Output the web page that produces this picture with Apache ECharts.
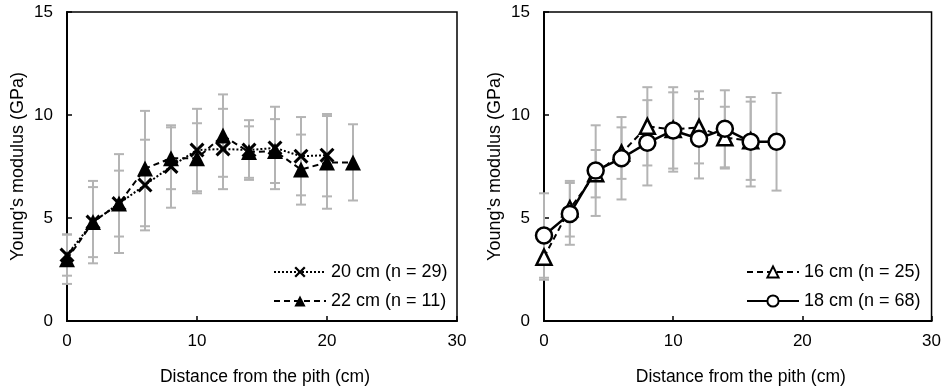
<!DOCTYPE html>
<html><head><meta charset="utf-8">
<script src="https://cdn.jsdelivr.net/npm/echarts@6/dist/echarts.min.js"></script>
<style>html,body{margin:0;padding:0;background:#fff}#c{width:944px;height:391px}</style>
</head><body><div id="c"></div>
<script>
// ---- data ----
const x20 = [0,2,4,6,8,10,12,14,16,18,20];
const y20 = [3.2,4.8,5.7,6.6,7.5,8.3,8.35,8.3,8.4,8.0,8.05];
const sd20 = [1.0,1.7,1.6,2.2,2.0,2.0,1.95,1.45,2.0,1.9,2.0];

const x22 = [0,2,4,6,8,10,12,14,16,18,20,22];
const y22 = [3.0,4.8,5.7,7.4,7.9,7.9,9.0,8.2,8.25,7.35,7.7,7.7];
const sd22 = [1.2,2.0,2.4,2.8,1.5,1.7,2.0,1.25,1.55,1.7,2.25,1.85];

const x16 = [0,2,4,6,8,10,12,14,16];
const y16 = [3.1,5.45,7.15,8.15,9.45,9.3,9.4,8.9,8.75];
const sd16 = [1.1,1.35,1.15,1.25,1.9,2.05,1.75,1.5,1.9];

const x18 = [0,2,4,6,8,10,12,14,16,18];
const y18 = [4.15,5.2,7.3,7.9,8.65,9.25,8.85,9.33,8.7,8.7];
const sd18 = [2.05,1.5,2.2,2.0,2.07,1.85,1.93,1.87,2.17,2.37];

const names = ['20 cm (n = 29)','22 cm (n = 11)','16 cm (n = 25)','18 cm (n = 68)'];
const xTicks = [0,10,20,30];
const yTicks = [0,5,10,15];

// ---- build ----
const FONT = 'Liberation Sans, Arial, sans-serif';
const pts = (xs, ys) => xs.map((x,i)=>[x, ys[i]]);
const errs = (xs, ys, sd) => xs.map((x,i)=>[x, ys[i]-sd[i], ys[i]+sd[i]]);
const XSYM = 'path://M0,2 L2,0 L7,5 L12,0 L14,2 L9,7 L14,12 L12,14 L7,9 L2,14 L0,12 L5,7 Z';

function errSeries(data, gi){
  return {
    type:'custom', xAxisIndex:gi, yAxisIndex:gi, z:1, silent:true,
    data: data,
    renderItem: function(params, api){
      const x = api.value(0), lo = api.value(1), hi = api.value(2);
      const p1 = api.coord([x, lo]), p2 = api.coord([x, hi]);
      const w = 5;
      const st = {stroke:'#b4b4b4', lineWidth:2};
      return {type:'group', children:[
        {type:'line', shape:{x1:p1[0],y1:p1[1],x2:p2[0],y2:p2[1]}, style:st},
        {type:'line', shape:{x1:p1[0]-w,y1:p1[1],x2:p1[0]+w,y2:p1[1]}, style:st},
        {type:'line', shape:{x1:p2[0]-w,y1:p2[1],x2:p2[0]+w,y2:p2[1]}, style:st}
      ]};
    }
  };
}

function xAxis(gi){
  return {
    gridIndex:gi, type:'value', min:0, max:30, interval:10,
    name:'Distance from the pith (cm)', nameLocation:'middle', nameGap:47,
    nameTextStyle:{fontFamily:FONT, fontSize:17.5, color:'#000', padding:[0,0,0,6]},
    axisLine:{show:true, onZero:false, lineStyle:{color:'#000', width:2}},
    axisTick:{show:true, inside:true, length:5, lineStyle:{color:'#000', width:1.5}},
    axisLabel:{fontFamily:FONT, fontSize:17, color:'#000', margin:12},
    splitLine:{show:false}
  };
}
function yAxis(gi){
  return {
    gridIndex:gi, type:'value', min:0, max:15, interval:5,
    name:"Young's modulus (GPa)", nameLocation:'middle', nameGap:40,
    nameTextStyle:{fontFamily:FONT, fontSize:18, color:'#000'},
    axisLine:{show:true, onZero:false, lineStyle:{color:'#000', width:2}},
    axisTick:{show:true, inside:true, length:5, lineStyle:{color:'#000', width:1.5}},
    axisLabel:{fontFamily:FONT, fontSize:17, color:'#000', margin:14},
    splitLine:{show:false}
  };
}

const chart = echarts.init(document.getElementById('c'), null, {renderer:'canvas'});
chart.setOption({
  animation:false,
  backgroundColor:'#fff',
  grid:[
    {left:67, right:487, top:12, bottom:70, show:true, borderColor:'#000', borderWidth:1.5},
    {left:544, right:11, top:12, bottom:70, show:true, borderColor:'#000', borderWidth:1.5}
  ],
  xAxis:[xAxis(0), xAxis(1)],
  yAxis:[yAxis(0), yAxis(1)],
  legend:[
    {data:[names[0], names[1]], orient:'vertical', left:268, top:258, itemWidth:52, itemHeight:14, itemGap:11,
     textStyle:{fontFamily:FONT, fontSize:18, color:'#000'}},
    {data:[names[2], names[3]], orient:'vertical', left:741, top:258, itemWidth:52, itemHeight:14, itemGap:11,
     textStyle:{fontFamily:FONT, fontSize:18, color:'#000'}}
  ],
  series:[
    errSeries(errs(x20,y20,sd20),0),
    errSeries(errs(x22,y22,sd22),0),
    errSeries(errs(x16,y16,sd16),1),
    errSeries(errs(x18,y18,sd18),1),
    {name:names[0], type:'line', xAxisIndex:0, yAxisIndex:0, z:3, data:pts(x20,y20),
     symbol:XSYM, symbolSize:15, itemStyle:{color:'#000'},
     lineStyle:{color:'#000', width:2, type:'dotted'}},
    {name:names[1], type:'line', xAxisIndex:0, yAxisIndex:0, z:4, data:pts(x22,y22),
     symbol:'triangle', symbolSize:16, itemStyle:{color:'#000'},
     lineStyle:{color:'#000', width:2, type:[6,4]}},
    {name:names[2], type:'line', xAxisIndex:1, yAxisIndex:1, z:3, data:pts(x16,y16),
     symbol:'triangle', symbolSize:15, itemStyle:{color:'#fff', borderColor:'#000', borderWidth:2.5},
     lineStyle:{color:'#000', width:2, type:[6,4]}},
    {name:names[3], type:'line', xAxisIndex:1, yAxisIndex:1, z:4, data:pts(x18,y18),
     symbol:'circle', symbolSize:16, itemStyle:{color:'#fff', borderColor:'#000', borderWidth:2.5},
     lineStyle:{color:'#000', width:2.5, type:'solid'}}
  ]
});
</script></body></html>
